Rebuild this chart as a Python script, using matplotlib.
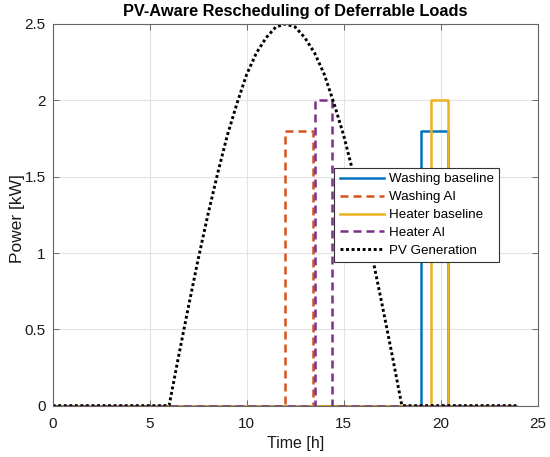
import matplotlib.pyplot as plt

# load schedules: start / stop hour and power
LOAD_NAMES = ["Washing baseline", "Washing AI", "Heater baseline", "Heater AI"]
LOAD_START = [19.0, 12.0, 19.5, 13.5]
LOAD_STOP = [20.4, 13.4, 20.4, 14.4]
LOAD_POWER = [1.8, 1.8, 2.0, 2.0]
T_END = 23.9

# PV generation, every half hour
PV_TIME = [0, 6.0, 6.5, 7.0, 7.5, 8.0, 8.5, 9.0, 9.5, 10.0, 10.5, 11.0, 11.5, 12.0,
           12.5, 13.0, 13.5, 14.0, 14.5, 15.0, 15.5, 16.0, 16.5, 17.0, 17.5, 18.0, 23.9]
PV_POWER = [0, 0.0, 0.33, 0.65, 0.96, 1.25, 1.52, 1.77, 1.98, 2.17, 2.31, 2.41, 2.48, 2.50,
            2.48, 2.41, 2.31, 2.17, 1.98, 1.77, 1.52, 1.25, 0.96, 0.65, 0.33, 0.0, 0]

COLORS = ["#0072BD", "#D95319", "#EDB120", "#7E2F8E"]
STYLES = ["-", (0, (3.2, 2.0)), "-", (0, (3.2, 2.0))]

plt.rcParams["font.family"] = ["Liberation Sans", "DejaVu Sans"]

fig = plt.figure(figsize=(5.5, 4.57), dpi=100, facecolor="white")
ax = fig.add_axes([0.0958, 0.1123, 0.8818, 0.8352])

for name, start, stop, power, color, style in zip(
        LOAD_NAMES, LOAD_START, LOAD_STOP, LOAD_POWER, COLORS, STYLES):
    xs = [0, start, start, stop, stop, T_END]
    ys = [0, 0, power, power, 0, 0]
    ax.plot(xs, ys, color=color, linestyle=style, linewidth=1.8, label=name)

ax.plot(PV_TIME, PV_POWER, color="black", linestyle=(0, (1.0, 0.9)),
        linewidth=2.1, label="PV Generation")

ax.set_xlim(0, 25)
ax.set_ylim(0, 2.5)
ax.set_xticks([0, 5, 10, 15, 20, 25])
ax.set_yticks([0, 0.5, 1, 1.5, 2, 2.5])
ax.set_yticklabels(["0", "0.5", "1", "1.5", "2", "2.5"])
ax.grid(True, color="#e3e3e3", linewidth=0.8)
ax.set_axisbelow(True)
ax.tick_params(direction="in", length=4, width=0.6, top=True, right=True,
               labelsize=11, colors="#555555", labelcolor="#1a1a1a")
ax.tick_params(axis="x", pad=8)
ax.tick_params(axis="y", pad=5)
for spine in ax.spines.values():
    spine.set_color("#666666")
    spine.set_linewidth(0.8)

ax.set_xlabel("Time [h]", fontsize=11.5, color="#1a1a1a", labelpad=4)
ax.set_ylabel("Power [kW]", fontsize=12.5, color="#1a1a1a")
ax.yaxis.set_label_coords(-0.058, 0.49)
ax.set_title("PV-Aware Rescheduling of Deferrable Loads", fontsize=11.8,
             fontweight="bold", pad=6)

leg = ax.legend(loc="upper left", bbox_to_anchor=(0.581, 0.6235), fontsize=9.6,
                frameon=True, fancybox=False, framealpha=1, edgecolor="#333333",
                handlelength=3.3, handletextpad=0.4, borderpad=0.4,
                labelspacing=0.42, borderaxespad=0)
leg.get_frame().set_linewidth(0.8)

fig.savefig("out.png", dpi=100)
